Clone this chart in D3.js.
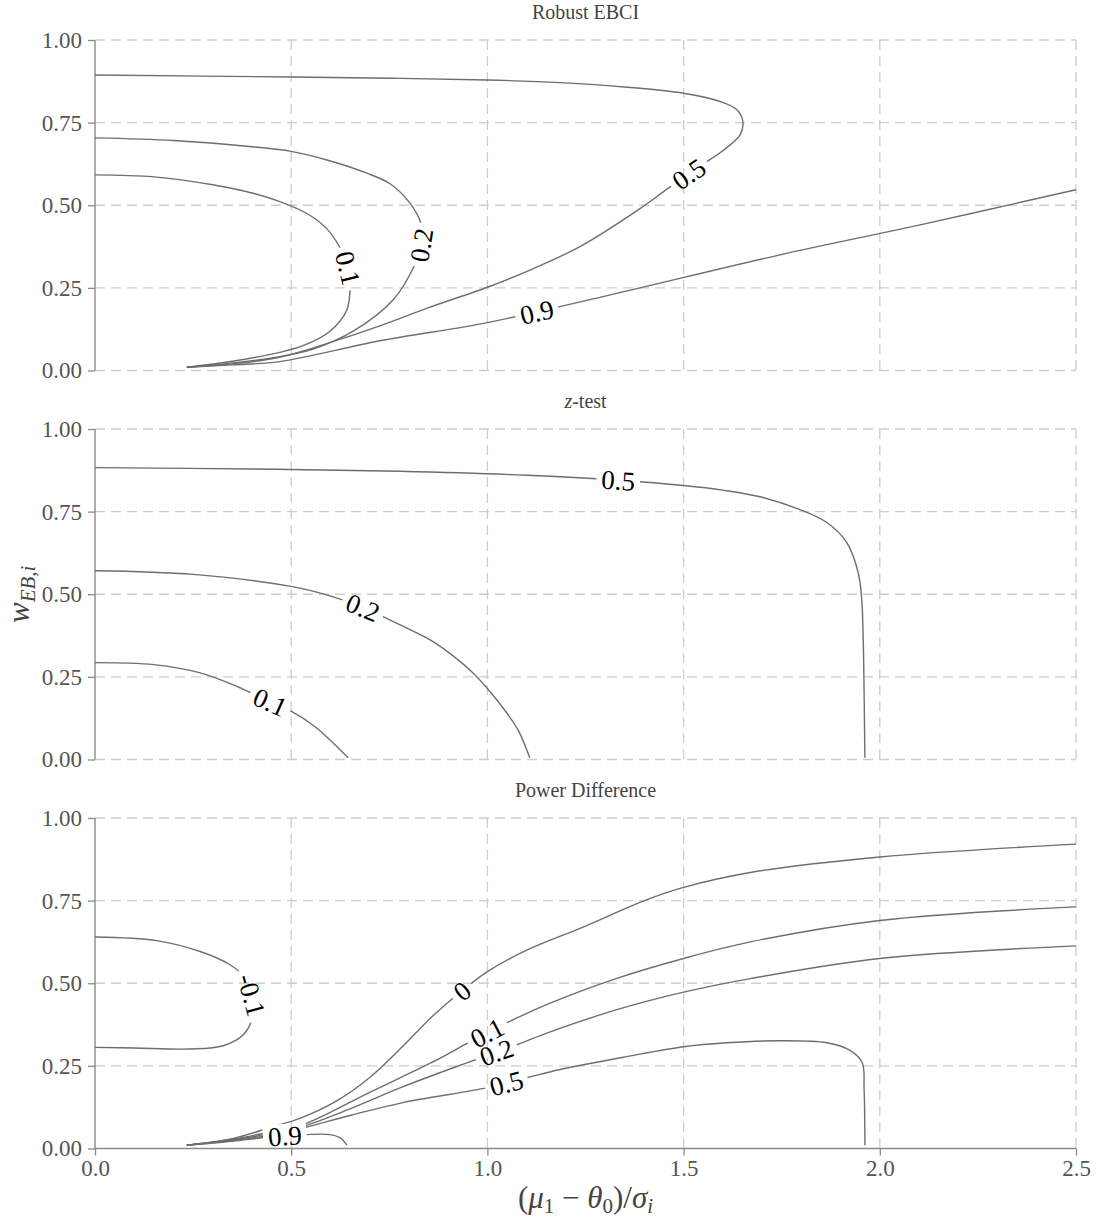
<!DOCTYPE html>
<html>
<head>
<meta charset="utf-8">
<script src="https://cdn.jsdelivr.net/npm/d3@7"></script>
<style>
  body { margin: 0; background: #fff; }
</style>
</head>
<body>
<div id="container"></div>
<script>
// Chart dimensions
const width = 1098;
const height = 1224;
const marginLeft = 95;
const marginRight = 22;
const firstTop = 40;
const panelHeight = 330.5;
const panelStep = 389;

// Panel titles and axis ticks
const titles = ["Robust EBCI", "z-test", "Power Difference"];
const xTicks = [0, 0.5, 1.0, 1.5, 2.0, 2.5];
const yTicks = [0, 0.25, 0.5, 0.75, 1.0];

// Robust EBCI contours, [x, w] pairs
const robustLevels = ["0.1", "0.2", "0.5", "0.9"];
const robust01 = [[0,0.592],[0.15,0.586],[0.3,0.562],[0.4,0.537],[0.471,0.511],[0.54,0.475],[0.59,0.43],[0.625,0.37],[0.645,0.31],[0.65,0.26],[0.642,0.184],[0.599,0.119],[0.53,0.075],[0.471,0.055],[0.35,0.028],[0.234,0.01]];
const robust02 = [[0,0.704],[0.2,0.696],[0.4,0.677],[0.5,0.663],[0.6,0.634],[0.693,0.597],[0.752,0.565],[0.8,0.51],[0.83,0.447],[0.832,0.38],[0.815,0.32],[0.76,0.214],[0.658,0.119],[0.556,0.065],[0.471,0.042],[0.35,0.023],[0.234,0.01]];
const robust05 = [[0,0.894],[0.5,0.888],[0.78,0.884],[1.0,0.879],[1.185,0.871],[1.35,0.858],[1.5,0.839],[1.593,0.814],[1.636,0.789],[1.651,0.753],[1.644,0.713],[1.593,0.659],[1.55,0.625],[1.465,0.555],[1.389,0.49],[1.236,0.375],[1.12,0.31],[1.007,0.255],[0.85,0.19],[0.726,0.135],[0.6,0.085],[0.471,0.04],[0.35,0.02],[0.234,0.01]];
const robust09 = [[0.234,0.01],[0.35,0.017],[0.471,0.027],[0.726,0.09],[1.0,0.145],[1.3,0.225],[1.746,0.35],[2.1,0.44],[2.5,0.547]];
const robustLabelAt = [[0.645,0.31],[0.832,0.38],[1.516,0.59],[1.126,0.174]];

// z-test contours
const zLevels = ["0.1", "0.2", "0.5"];
const z01 = [[0,0.293],[0.15,0.287],[0.268,0.262],[0.36,0.222],[0.446,0.174],[0.503,0.144],[0.56,0.1],[0.599,0.059],[0.645,0.005]];
const z02 = [[0,0.571],[0.25,0.56],[0.503,0.523],[0.599,0.495],[0.683,0.46],[0.734,0.432],[0.854,0.362],[0.9,0.325],[0.956,0.27],[1.0,0.215],[1.05,0.14],[1.08,0.085],[1.108,0.005]];
const z05 = [[0,0.883],[0.4,0.879],[0.778,0.872],[1.1,0.86],[1.333,0.845],[1.5,0.829],[1.6,0.815],[1.695,0.795],[1.797,0.756],[1.865,0.717],[1.916,0.656],[1.945,0.565],[1.954,0.483],[1.958,0.35],[1.96,0.2],[1.962,0.005]];
const zLabelAt = [[0.446,0.174],[0.683,0.46],[1.333,0.844]];

// Power difference contours
const diffLevels = ["-0.1", "0", "0.1", "0.2", "0.5", "0.9"];
const diffM01 = [[0,0.64],[0.157,0.629],[0.268,0.596],[0.344,0.556],[0.38,0.52],[0.398,0.47],[0.405,0.43],[0.403,0.4],[0.378,0.344],[0.327,0.311],[0.242,0.301],[0.1,0.304],[0,0.306]];
const diff0 = [[0.234,0.01],[0.35,0.03],[0.446,0.063],[0.53,0.095],[0.617,0.145],[0.7,0.215],[0.785,0.31],[0.86,0.4],[0.93,0.472],[1.0,0.535],[1.1,0.6],[1.244,0.67],[1.4,0.75],[1.5,0.79],[1.67,0.835],[2.0,0.882],[2.5,0.921]];
const diff01 = [[0.234,0.01],[0.35,0.028],[0.446,0.05],[0.53,0.072],[0.7,0.17],[0.871,0.268],[0.948,0.318],[1.04,0.375],[1.16,0.44],[1.33,0.515],[1.5,0.575],[1.67,0.625],[2.0,0.69],[2.5,0.731]];
const diff02 = [[0.234,0.01],[0.35,0.026],[0.446,0.045],[0.53,0.067],[0.65,0.12],[0.785,0.187],[0.956,0.263],[1.075,0.314],[1.16,0.353],[1.33,0.42],[1.5,0.473],[1.67,0.514],[2.0,0.575],[2.5,0.613]];
const diff05 = [[0.234,0.01],[0.35,0.024],[0.446,0.04],[0.53,0.062],[0.65,0.1],[0.785,0.139],[1.0,0.184],[1.1,0.214],[1.185,0.239],[1.355,0.278],[1.5,0.308],[1.61,0.32],[1.738,0.326],[1.865,0.32],[1.924,0.297],[1.955,0.26],[1.96,0.178],[1.962,0.01]];
const diff09 = [[0.234,0.01],[0.35,0.022],[0.44,0.034],[0.535,0.042],[0.6,0.042],[0.625,0.032],[0.642,0.01]];
const diffLabelAt = [[0.403,0.465],[0.93,0.485],[0.999,0.35],[1.024,0.29],[1.05,0.193],[0.484,0.035]];

const panels = [
  { title: titles[0], levels: robustLevels, lines: [robust01, robust02, robust05, robust09], labelAt: robustLabelAt },
  { title: titles[1], levels: zLevels, lines: [z01, z02, z05], labelAt: zLabelAt },
  { title: titles[2], levels: diffLevels, lines: [diffM01, diff0, diff01, diff02, diff05, diff09], labelAt: diffLabelAt }
];

const font = "'Liberation Serif', 'DejaVu Serif', serif";

const svg = d3.select("#container")
    .append("svg")
    .attr("width", width)
    .attr("height", height)
    .style("font-family", font);

const x = d3.scaleLinear()
    .domain([0, 2.5])
    .range([marginLeft, width - marginRight]);

const defs = svg.append("defs");

panels.forEach(function(p, i) {
    const top = firstTop + i * panelStep;
    const y = d3.scaleLinear()
        .domain([0, 1])
        .range([top + panelHeight, top]);
    const isLast = i === panels.length - 1;

    const g = svg.append("g");

    // grid lines, dashed
    g.selectAll("line.gx")
        .data(xTicks.filter(function(d) { return d > 0; }))
        .enter()
        .append("line")
        .attr("x1", function(d) { return x(d); })
        .attr("x2", function(d) { return x(d); })
        .attr("y1", y(1))
        .attr("y2", y(0))
        .style("stroke", "#cdcdcd")
        .style("stroke-width", 1.3)
        .style("stroke-dasharray", "10,6");

    g.selectAll("line.gy")
        .data(yTicks.filter(function(d) { return !(isLast && d === 0); }))
        .enter()
        .append("line")
        .attr("x1", x(0))
        .attr("x2", x(2.5))
        .attr("y1", function(d) { return y(d); })
        .attr("y2", function(d) { return y(d); })
        .style("stroke", "#cdcdcd")
        .style("stroke-width", 1.3)
        .style("stroke-dasharray", "10,6");

    // left axis
    const yAxis = g.append("g")
        .attr("transform", "translate(" + marginLeft + ",0)")
        .call(d3.axisLeft(y).tickValues(yTicks).tickFormat(d3.format(".2f")).tickSize(7).tickPadding(6));
    yAxis.select(".domain").attr("d", "M0," + y(0) + "V" + y(1)).style("stroke", "#8a8a8a").style("stroke-width", 1.4);
    yAxis.selectAll(".tick line").style("stroke", "#8a8a8a").style("stroke-width", 1.3);
    yAxis.selectAll(".tick text")
        .style("font-family", font)
        .style("font-size", "23px")
        .style("fill", "#555");

    if (isLast) {
        const xAxis = g.append("g")
            .attr("transform", "translate(0," + y(0) + ")")
            .call(d3.axisBottom(x).tickValues(xTicks).tickFormat(d3.format(".1f")).tickSize(7).tickPadding(4));
        xAxis.select(".domain").attr("d", "M" + x(0) + ",0H" + x(2.5)).style("stroke", "#8a8a8a").style("stroke-width", 1.4);
        xAxis.selectAll(".tick line").style("stroke", "#8a8a8a").style("stroke-width", 1.3);
        xAxis.selectAll(".tick text")
            .style("font-family", font)
            .style("font-size", "23px")
            .style("fill", "#555");
    }

    // title
    const t = g.append("text")
        .attr("x", (x(0) + x(2.5)) / 2)
        .attr("y", top - 21)
        .attr("text-anchor", "middle")
        .style("font-size", "20px")
        .style("fill", "#444");
    if (p.title === "z-test") {
        t.append("tspan").style("font-style", "italic").text("z");
        t.append("tspan").text("-test");
    } else {
        t.text(p.title);
    }

    // mask that breaks the contour lines under their labels
    const mask = defs.append("mask")
        .attr("id", "gap" + i)
        .attr("maskUnits", "userSpaceOnUse")
        .attr("x", 0).attr("y", 0)
        .attr("width", width).attr("height", height);
    mask.append("rect")
        .attr("width", width)
        .attr("height", height)
        .attr("fill", "white");

    const line = d3.line()
        .x(function(d) { return x(d[0]); })
        .y(function(d) { return y(d[1]); })
        .curve(d3.curveCatmullRom.alpha(0.5));

    const paths = g.append("g")
        .attr("mask", "url(#gap" + i + ")")
        .selectAll("path")
        .data(p.lines)
        .enter()
        .append("path")
        .attr("d", line)
        .attr("fill", "none")
        .style("stroke", "#6e6e6e")
        .style("stroke-width", 1.4);

    // contour labels, placed on the nearest point of their line
    const labels = g.append("g");
    paths.each(function(d, k) {
        const node = this;
        const total = node.getTotalLength();
        const tx = x(p.labelAt[k][0]);
        const ty = y(p.labelAt[k][1]);
        let best = 0, bestDist = Infinity;
        for (let s = 0; s <= total; s += 0.5) {
            const pt = node.getPointAtLength(s);
            const dd = (pt.x - tx) * (pt.x - tx) + (pt.y - ty) * (pt.y - ty);
            if (dd < bestDist) { bestDist = dd; best = s; }
        }
        const c = node.getPointAtLength(best);
        const a = node.getPointAtLength(Math.max(0, best - 8));
        const b = node.getPointAtLength(Math.min(total, best + 8));
        let angle = Math.atan2(b.y - a.y, b.x - a.x) * 180 / Math.PI;
        if (angle > 90) angle -= 180;
        if (angle < -90) angle += 180;

        const txt = labels.append("text")
            .attr("transform", "translate(" + c.x + "," + c.y + ") rotate(" + angle + ")")
            .attr("text-anchor", "middle")
            .attr("dy", "0.35em")
            .style("font-size", "27px")
            .style("fill", "#000")
            .text(p.levels[k]);
        const w = txt.node().getComputedTextLength();

        mask.append("rect")
            .attr("transform", "translate(" + c.x + "," + c.y + ") rotate(" + angle + ")")
            .attr("x", -w / 2 - 5)
            .attr("y", -12)
            .attr("width", w + 10)
            .attr("height", 24)
            .attr("fill", "black");
    });
});

// axis titles
const xLabel = svg.append("text")
    .attr("x", (x(0) + x(2.5)) / 2)
    .attr("y", 1208)
    .attr("text-anchor", "middle")
    .style("font-size", "31px")
    .style("fill", "#444");
xLabel.append("tspan").text("(");
xLabel.append("tspan").style("font-style", "italic").text("μ");
xLabel.append("tspan").attr("dy", 5).style("font-size", "21px").text("1");
xLabel.append("tspan").attr("dy", -5).text(" − ");
xLabel.append("tspan").style("font-style", "italic").text("θ");
xLabel.append("tspan").attr("dy", 5).style("font-size", "21px").text("0");
xLabel.append("tspan").attr("dy", -5).text(")/");
xLabel.append("tspan").style("font-style", "italic").text("σ");
xLabel.append("tspan").attr("dy", 5).style("font-size", "21px").style("font-style", "italic").text("i");

const yLabel = svg.append("text")
    .attr("transform", "translate(29," + (firstTop + panelStep + panelHeight / 2) + ") rotate(-90)")
    .attr("text-anchor", "middle")
    .style("font-size", "31px")
    .style("fill", "#444");
yLabel.append("tspan").style("font-style", "italic").text("w");
yLabel.append("tspan").attr("dy", 6).style("font-size", "21px").style("font-style", "italic").text("EB,i");
</script>
</body>
</html>
